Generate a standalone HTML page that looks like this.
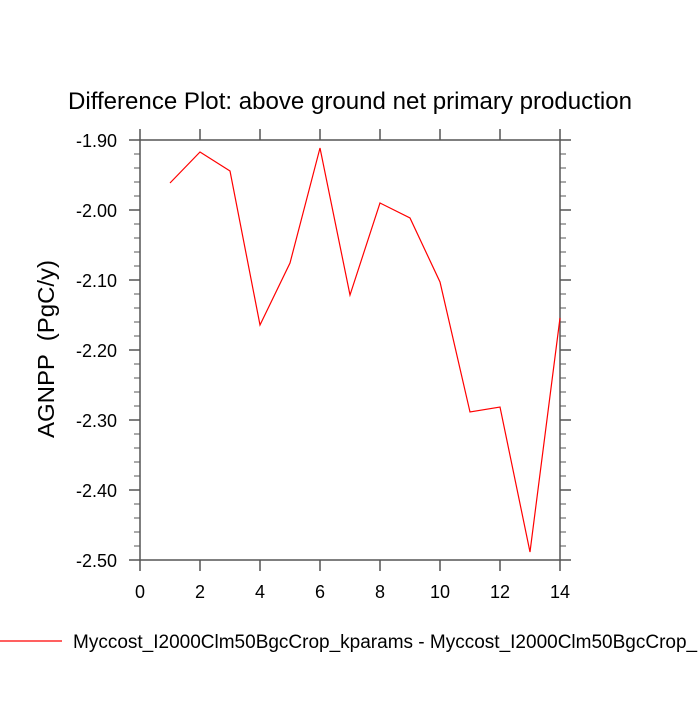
<!DOCTYPE html>
<html><head><style>body{margin:0;background:#fff}</style></head><body>
<svg width="700" height="700" xmlns="http://www.w3.org/2000/svg" font-family="Liberation Sans, sans-serif">
<rect width="700" height="700" fill="#fff"/>
<text x="350" y="109" font-size="24" text-anchor="middle" textLength="564" lengthAdjust="spacingAndGlyphs">Difference Plot: above ground net primary production</text>
<g stroke="#555" stroke-width="1.5" fill="none">
<rect x="140" y="140" width="420" height="420"/>
<path d="M140 140h-11M140 210h-11M140 280h-11M140 350h-11M140 420h-11M140 490h-11M140 560h-11
M560 140h11M560 210h11M560 280h11M560 350h11M560 420h11M560 490h11M560 560h11
M140 560v11M200 560v11M260 560v11M320 560v11M380 560v11M440 560v11M500 560v11M560 560v11
M140 140v-11M200 140v-11M260 140v-11M320 140v-11M380 140v-11M440 140v-11M500 140v-11M560 140v-11"/>
</g>
<g stroke="#555" stroke-width="1" fill="none">
<path d="M140 154h-6M140 168h-6M140 182h-6M140 196h-6M140 224h-6M140 238h-6M140 252h-6M140 266h-6M140 294h-6M140 308h-6M140 322h-6M140 336h-6M140 364h-6M140 378h-6M140 392h-6M140 406h-6M140 434h-6M140 448h-6M140 462h-6M140 476h-6M140 504h-6M140 518h-6M140 532h-6M140 546h-6
M560 154h6M560 168h6M560 182h6M560 196h6M560 224h6M560 238h6M560 252h6M560 266h6M560 294h6M560 308h6M560 322h6M560 336h6M560 364h6M560 378h6M560 392h6M560 406h6M560 434h6M560 448h6M560 462h6M560 476h6M560 504h6M560 518h6M560 532h6M560 546h6"/>
</g>
<g font-size="18" text-anchor="end">
<text x="117" y="147">-1.90</text><text x="117" y="217">-2.00</text><text x="117" y="287">-2.10</text><text x="117" y="357">-2.20</text><text x="117" y="427">-2.30</text><text x="117" y="497">-2.40</text><text x="117" y="567">-2.50</text>
</g>
<g font-size="18" text-anchor="middle">
<text x="140" y="598">0</text><text x="200" y="598">2</text><text x="260" y="598">4</text><text x="320" y="598">6</text><text x="380" y="598">8</text><text x="440" y="598">10</text><text x="500" y="598">12</text><text x="560" y="598">14</text>
</g>
<text transform="translate(54,349) rotate(-90)" font-size="23" text-anchor="middle" xml:space="preserve" textLength="178" lengthAdjust="spacingAndGlyphs">AGNPP  (PgC/y)</text>
<polyline fill="none" stroke="#f00" stroke-width="1.2" points="170,183 200,152 230,171 260,325 290,263 320,148 350,295 380,203 410,218 440,282 470,412 500,407 530,552 560,318"/>
<line x1="0" y1="641" x2="62" y2="641" stroke="#f00" stroke-width="1.2"/>
<text x="73" y="648" font-size="19">Myccost_I2000Clm50BgcCrop_kparams - Myccost_I2000Clm50BgcCrop_</text>
</svg>
</body></html>
